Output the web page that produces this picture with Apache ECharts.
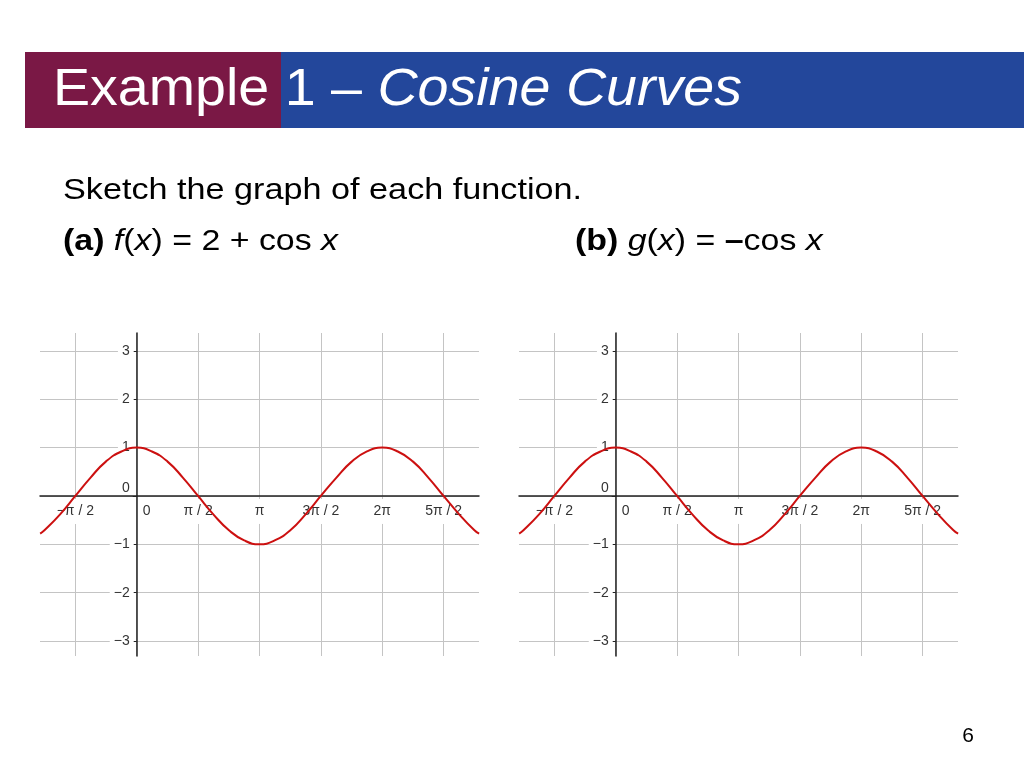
<!DOCTYPE html>
<html>
<head>
<meta charset="utf-8">
<script src="https://cdn.jsdelivr.net/npm/echarts@6/dist/echarts.min.js"></script>
<style>
html,body{margin:0;padding:0;background:#fff;}
#main{width:1024px;height:768px;}
</style>
</head>
<body>
<div id="main"></div>
<script>
const xPoints = [-2.47, -2.36, -1.96, -1.57, -1.18, -0.79, -0.39, 0, 0.39, 0.79, 1.18, 1.57, 1.96, 2.36, 2.75, 3.14, 3.53, 3.93, 4.32, 4.71, 5.11, 5.50, 5.89, 6.28, 6.68, 7.07, 7.46, 7.85, 8.25, 8.64, 8.76];
// curve values
const leftValues = [-0.78, -0.71, -0.38, 0, 0.38, 0.71, 0.92, 1, 0.92, 0.71, 0.38, 0, -0.38, -0.71, -0.92, -1, -0.92, -0.71, -0.38, 0, 0.38, 0.71, 0.92, 1, 0.92, 0.71, 0.38, 0, -0.38, -0.71, -0.78];
// curve values
const rightValues = [-0.78, -0.71, -0.38, 0, 0.38, 0.71, 0.92, 1, 0.92, 0.71, 0.38, 0, -0.38, -0.71, -0.92, -1, -0.92, -0.71, -0.38, 0, 0.38, 0.71, 0.92, 1, 0.92, 0.71, 0.38, 0, -0.38, -0.71, -0.78];
// x tick positions and labels
const xTickValues = [-1.5708, 0, 1.5708, 3.1416, 4.7124, 6.2832, 7.854];
const xTickLabels = ['\u2212\u03c0 / 2', '0', '\u03c0 / 2', '\u03c0', '3\u03c0 / 2', '2\u03c0', '5\u03c0 / 2'];
// y tick positions and labels
const yTickValues = [-3, -2, -1, 0, 1, 2, 3];
const yTickLabels = ['\u22123', '\u22122', '\u22121', '0', '1', '2', '3'];

const X_MIN = -2.474, X_MAX = 8.757, Y_MIN = -3.31, Y_MAX = 3.37;
const GRID_W = 439, GRID_H = 323;
// pixel distance of the zero lines from the grid's left / bottom edge
const yAxisOffset = -(0 - X_MIN) / (X_MAX - X_MIN) * GRID_W;
const xAxisOffset = -(0 - Y_MIN) / (Y_MAX - Y_MIN) * GRID_H;

const FONT = '"Liberation Sans", Arial, Helvetica, sans-serif';
const chart = echarts.init(document.getElementById('main'));

function xAxisCfg(gi) {
  return {
    type: 'value', gridIndex: gi, min: X_MIN, max: X_MAX, position: 'bottom', offset: xAxisOffset,
    axisLine: { onZero: false, lineStyle: { color: '#222', width: 1.5 } },
    axisTick: { show: false, customValues: xTickValues },
    splitLine: { show: true, lineStyle: { color: '#c4c4c4', width: 1 } },
    axisLabel: {
      customValues: xTickValues, margin: 3, color: '#333',
      formatter: function (v) {
        let idx = 0, best = 1e9;
        xTickValues.forEach((t, i) => { if (Math.abs(t - v) < best) { best = Math.abs(t - v); idx = i; } });
        const s = xTickLabels[idx];
        return s === '0' ? '{z|0}' : '{n|' + s + '}';
      },
      rich: {
        n: { fontSize: 14, fontFamily: FONT, color: '#333', backgroundColor: '#fff', padding: [5, 3, 6, 3] },
        z: { fontSize: 14, fontFamily: FONT, color: '#333', padding: [5, 0, 6, 20] }
      }
    }
  };
}
function yAxisCfg(gi) {
  return {
    type: 'value', gridIndex: gi, min: Y_MIN, max: Y_MAX, position: 'left', offset: yAxisOffset,
    axisLine: { onZero: false, lineStyle: { color: '#222', width: 1.5 } },
    axisTick: { show: true, length: 4, customValues: yTickValues, lineStyle: { color: '#222' } },
    splitLine: { show: true, lineStyle: { color: '#c4c4c4', width: 1 } },
    axisLabel: {
      customValues: yTickValues, margin: 3, color: '#333',
      formatter: function (v) {
        const idx = yTickValues.indexOf(Math.round(v));
        const s = yTickLabels[idx];
        return s === '0' ? '{z|0}' : '{n|' + s + '}';
      },
      rich: {
        n: { fontSize: 14, fontFamily: FONT, color: '#333', backgroundColor: '#fff', padding: [2, 4, 2, 4] },
        z: { fontSize: 14, fontFamily: FONT, color: '#333', padding: [0, 4, 16, 4] }
      }
    }
  };
}

const option = {
  animation: false,
  backgroundColor: '#fff',
  grid: [
    { left: 40, top: 333, width: GRID_W, height: GRID_H },
    { left: 519, top: 333, width: GRID_W, height: GRID_H }
  ],
  xAxis: [xAxisCfg(0), xAxisCfg(1)],
  yAxis: [yAxisCfg(0), yAxisCfg(1)],
  series: [
    { type: 'line', xAxisIndex: 0, yAxisIndex: 0, showSymbol: false, smooth: true, clip: true, z: 5,
      lineStyle: { color: '#cc1010', width: 2 }, itemStyle: { color: '#cc1010' },
      data: xPoints.map((x, i) => [x, leftValues[i]]) },
    { type: 'line', xAxisIndex: 1, yAxisIndex: 1, showSymbol: false, smooth: true, clip: true, z: 5,
      lineStyle: { color: '#cc1010', width: 2 }, itemStyle: { color: '#cc1010' },
      data: xPoints.map((x, i) => [x, rightValues[i]]) }
  ],
  graphic: [
    { type: 'rect', shape: { x: 25, y: 52, width: 256, height: 76 }, style: { fill: '#7A1845' } },
    { type: 'rect', shape: { x: 281, y: 52, width: 743, height: 76 }, style: { fill: '#23479B' } },
    { type: 'text', x: 53, y: 91, scaleX: 1.09,
      style: { text: '{n|Example 1 \u2013 }{i|Cosine Curves}', verticalAlign: 'middle',
        rich: { n: { fontSize: 51, fontFamily: FONT, fill: '#fff' }, i: { fontSize: 51, fontFamily: FONT, fontStyle: 'italic', fill: '#fff' } } } },
    { type: 'text', x: 63, y: 191, scaleX: 1.14,
      style: { text: 'Sketch the graph of each function.', fontSize: 30, fontFamily: FONT, fill: '#000', verticalAlign: 'middle' } },
    { type: 'text', x: 63, y: 242, scaleX: 1.13,
      style: { text: '{b|(a)}{n| }{i|f}{n|(}{i|x}{n|) = 2 + cos }{i|x}', verticalAlign: 'middle',
        rich: { b: { fontSize: 30, fontFamily: FONT, fontWeight: 'bold', fill: '#000' }, n: { fontSize: 30, fontFamily: FONT, fill: '#000' }, i: { fontSize: 30, fontFamily: FONT, fontStyle: 'italic', fill: '#000' } } } },
    { type: 'text', x: 575, y: 242, scaleX: 1.13,
      style: { text: '{b|(b)}{n| }{i|g}{n|(}{i|x}{n|) = }{b|\u2013}{n|cos }{i|x}', verticalAlign: 'middle',
        rich: { b: { fontSize: 30, fontFamily: FONT, fontWeight: 'bold', fill: '#000' }, n: { fontSize: 30, fontFamily: FONT, fill: '#000' }, i: { fontSize: 30, fontFamily: FONT, fontStyle: 'italic', fill: '#000' } } } },
    { type: 'text', x: 968, y: 736,
      style: { text: '6', fontSize: 21, fontFamily: FONT, fill: '#000', align: 'center', verticalAlign: 'middle' } }
  ]
};
chart.setOption(option);
</script>
</body>
</html>
